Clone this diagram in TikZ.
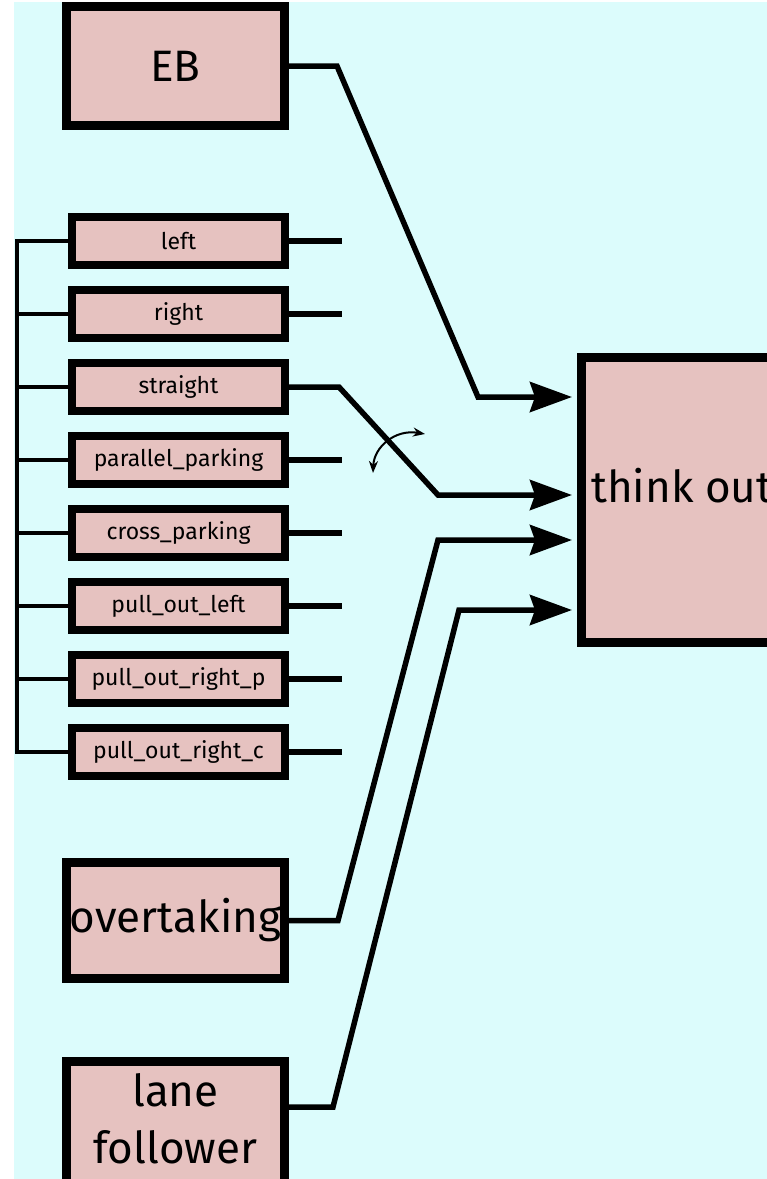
\documentclass[tikz,border=0pt]{standalone}
\usepackage{fontspec}
\setmainfont{Fira Sans}
\usepackage{tikz}
\usetikzlibrary{arrows.meta, positioning, calc}
\tikzset{>=stealth}
\usepackage{xcolor}
\definecolor{bgcyan}{HTML}{DCFCFC}
\definecolor{boxpink}{HTML}{E6C2C0}

\begin{document}
\begin{tikzpicture}[x=1pt, y=-1pt,
	bigbox/.style={draw, fill=boxpink, line width=9pt, outer sep=0pt, minimum width=218pt, inner sep=0pt, align=center, font=\fontsize{44}{57}\selectfont},
	smallbox/.style={draw, fill=boxpink, line width=8pt, outer sep=0pt, minimum width=213pt, minimum height=48pt, inner sep=0pt, font=\fontsize{23}{26}\selectfont},
	wire/.style={line width=5.5pt},
	bus/.style={line width=4.5pt},
	feed/.style={wire, -{Stealth[length=42pt, width=30pt, inset=5pt]}, shorten >=9.5pt}]
	\useasboundingbox (0,0) rectangle (767,1179);
	\clip (0,0) rectangle (767,1179);
	\fill[bgcyan] (14,2) rectangle (767,1179);
	% blocks on the left
	\node (EB) [bigbox, minimum height=119pt] at (175.5,66) {EB};
	\node (turnleft) [smallbox] at (178.5,241) {left};
	\node (turnright) [smallbox, below=25pt of turnleft] {right};
	\node (straight) [smallbox, below=25pt of turnright] {straight};
	\node (parpark) [smallbox, below=25pt of straight] {parallel\_parking};
	\node (crosspark) [smallbox, below=25pt of parpark] {cross\_parking};
	\node (pullleft) [smallbox, below=25pt of crosspark] {pull\_out\_left};
	\node (pullrp) [smallbox, below=25pt of pullleft] {pull\_out\_right\_p};
	\node (pullrc) [smallbox, below=25pt of pullrp] {pull\_out\_right\_c};
	\node (overtake) [bigbox, minimum height=116pt] at (175.5,920.5) {overtaking};
	\node (lanef) [bigbox, minimum height=136pt, anchor=north] at (175.5,1061.5) {lane\\follower\rule[-22pt]{0pt}{22pt}};
	% block on the right
	\node (think) [bigbox, minimum width=260pt, minimum height=285pt, anchor=north west] at (581.5,357.5) {};
	\node (thinklabel) [anchor=base west, font=\fontsize{44}{57}\selectfont, inner sep=0pt] at (591,502) {think out};
	\coordinate (in1) at ([yshift=-39.5pt]think.north west);
	\coordinate (in2) at ([yshift=-137.5pt]think.north west);
	\coordinate (in3) at ([yshift=-182.5pt]think.north west);
	\coordinate (in4) at ([yshift=-252.5pt]think.north west);
	% selector bus
	\coordinate (busx) at (17,0);
	\draw[bus] (turnleft.west) -- (turnleft.west -| busx) -- (pullrc.west -| busx) -- (pullrc.west);
	\foreach \n in {turnright, straight, parpark, crosspark, pullleft, pullrp}
		\draw[bus] (\n.west) -- (\n.west -| busx);
	% open outputs
	\foreach \n in {turnleft, turnright, parpark, crosspark, pullleft, pullrp, pullrc}{
		\coordinate (\n end) at ([xshift=57pt]\n.east);
		\draw[wire] (\n.east) -- (\n end);
	}
	% feeds into think out
	\draw[feed] (EB.east) -- (337,66) -- (478,397) -- (in1);
	\draw[feed] (straight.east) -- (339,387) -- (438,495) -- (in2);
	\draw[feed] (overtake.east) -- (338,920.5) -- (438,540) -- (in3);
	\draw[feed] ([yshift=-45.5pt]lanef.north east) -- (333,1107) -- (459,610) -- (in4);
	% switch
	\draw[line width=2pt, {Stealth[length=12pt, width=9pt]}-{Stealth[length=12pt, width=9pt]}] (373,473) .. controls (374,447) and (395,429) .. (425,434);
\end{tikzpicture}
\end{document}
